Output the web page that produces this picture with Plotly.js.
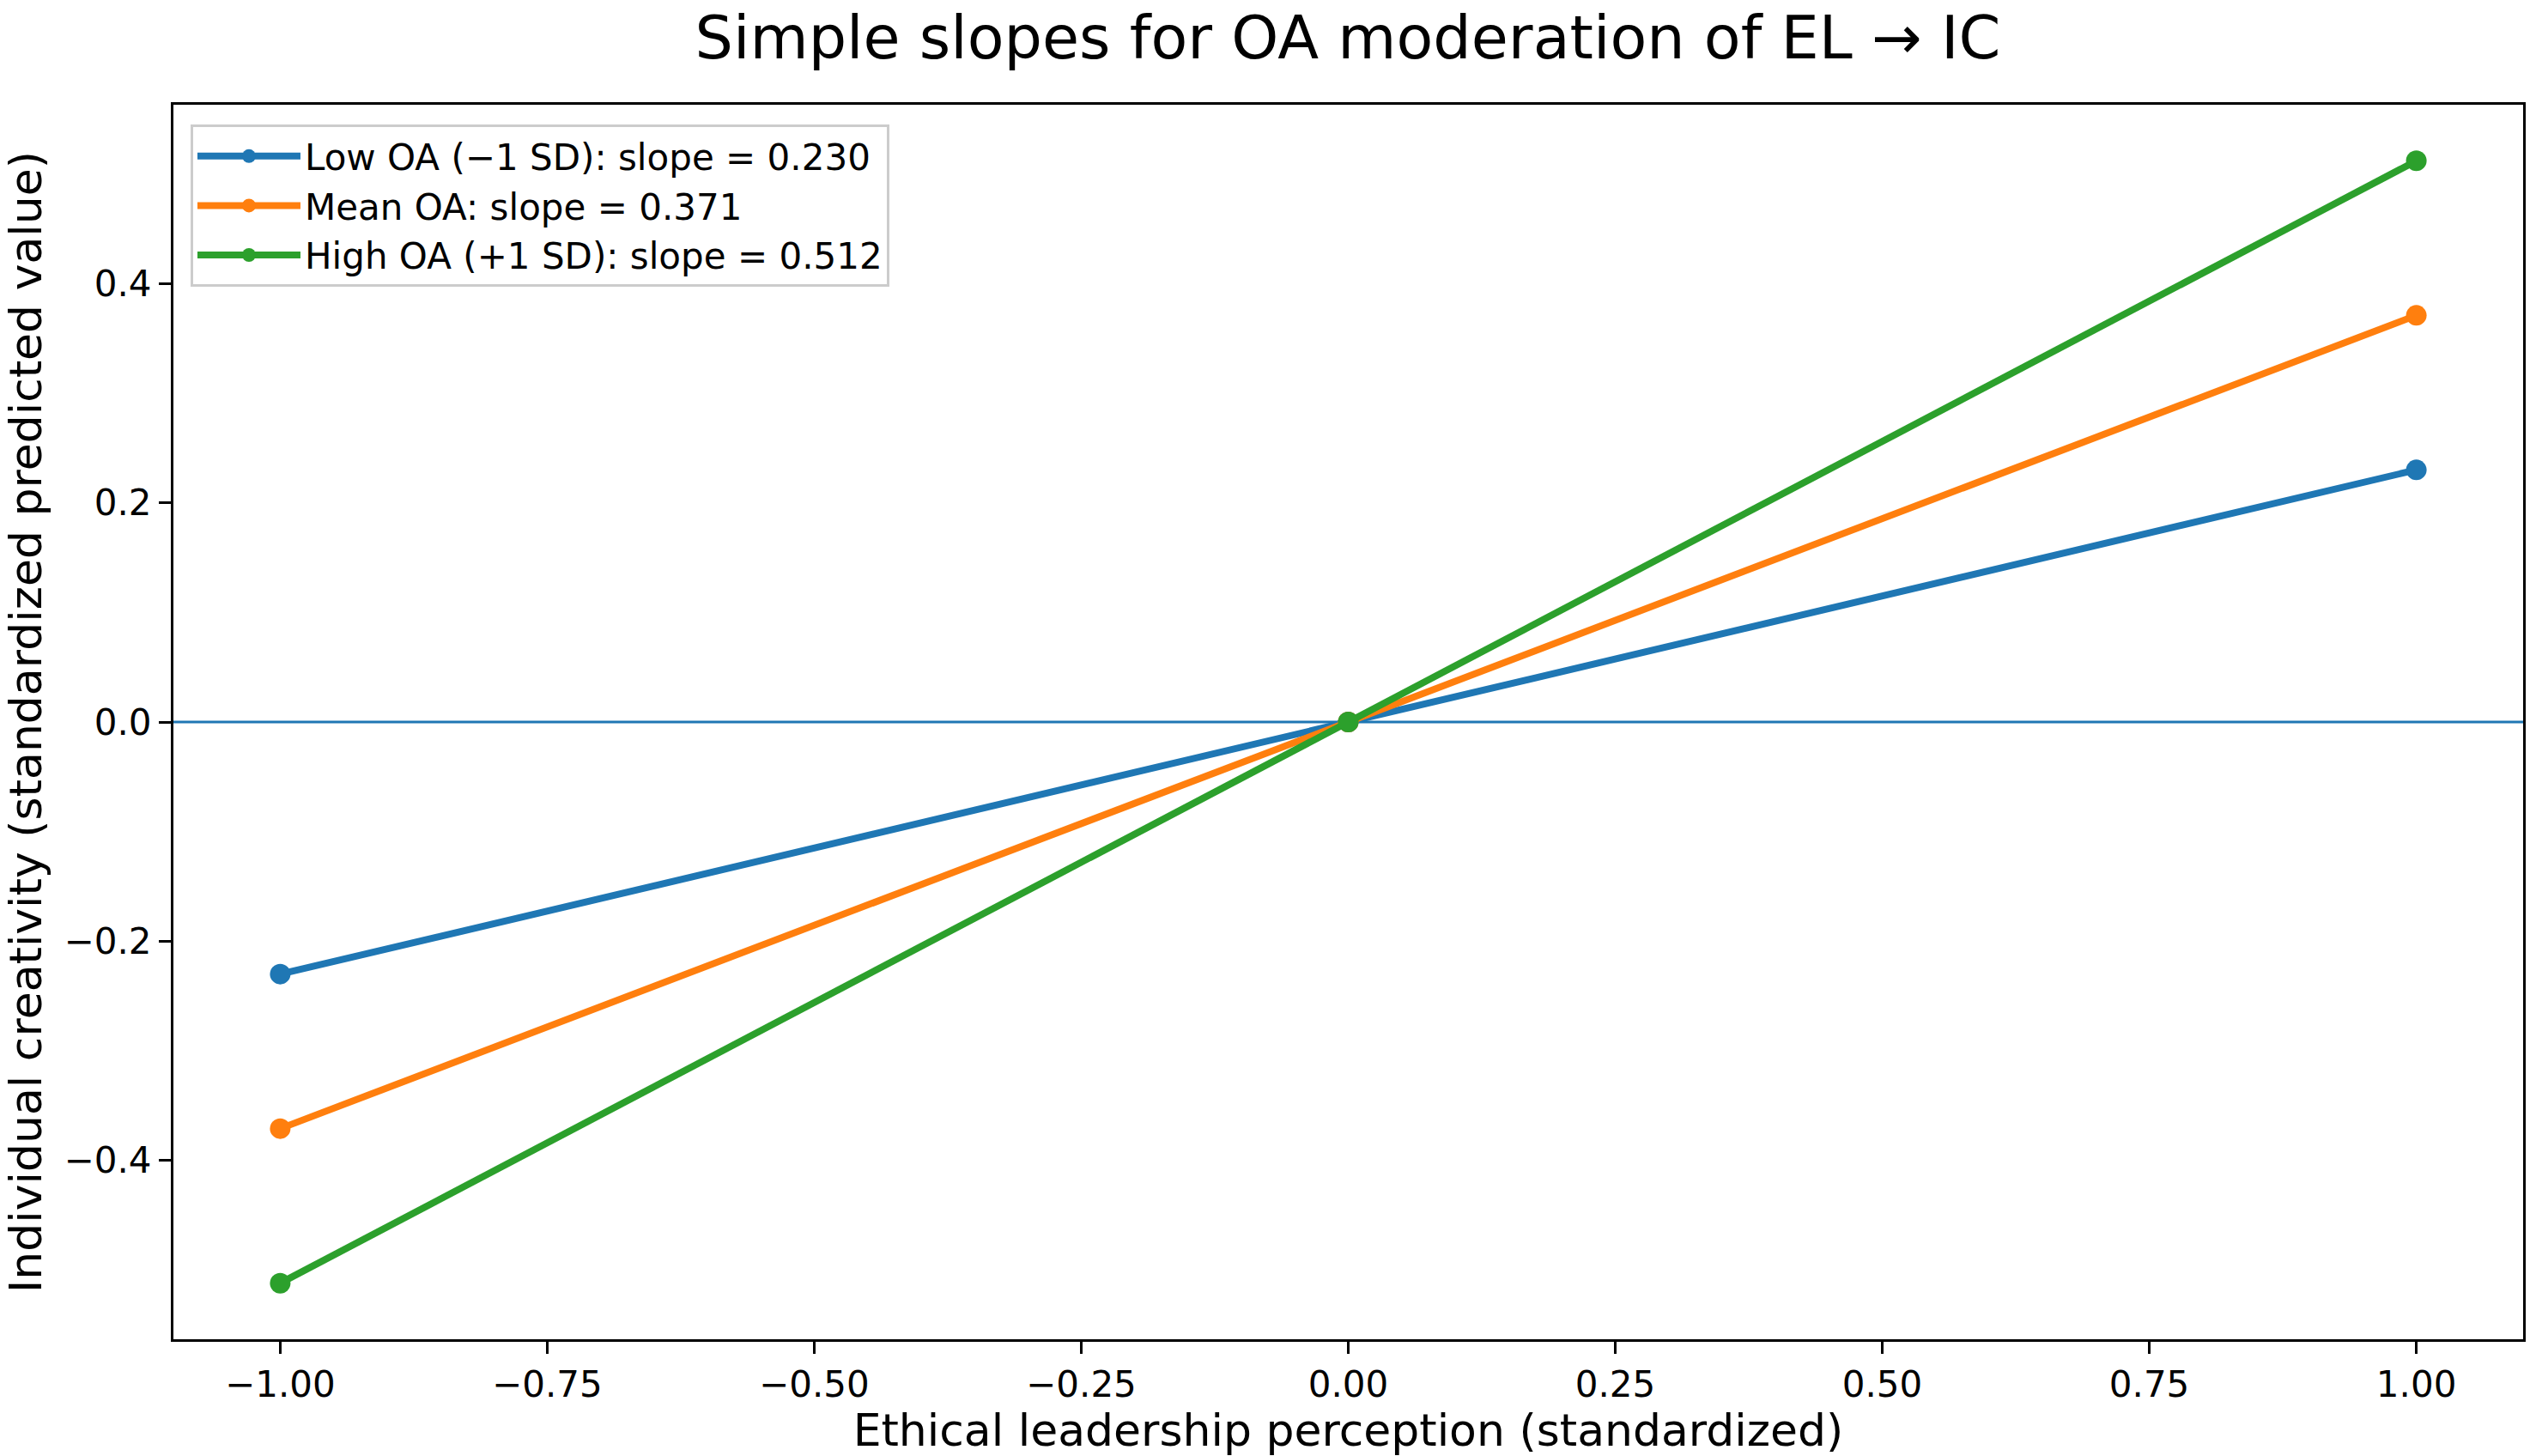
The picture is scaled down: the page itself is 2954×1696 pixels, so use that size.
<!DOCTYPE html>
<html>
<head>
<meta charset="utf-8">
<script src="https://cdn.plot.ly/plotly-3.0.1.min.js"></script>
<style>
  html, body { margin: 0; padding: 0; background: #fff; }
  #chart { width: 2954px; height: 1696px; }
</style>
</head>
<body>
<div id="chart"></div>
<script>
// predictor values (standardized EL) and predicted IC for each OA level
const elValues = [-1, 0, 1];
const lowOA = [-0.230, 0, 0.230];
const meanOA = [-0.371, 0, 0.371];
const highOA = [-0.512, 0, 0.512];

const seriesNames = [
  'Low OA (\u22121 SD): slope = 0.230',
  'Mean OA: slope = 0.371',
  'High OA (+1 SD): slope = 0.512'
];
const seriesColors = ['#1f77b4', '#ff7f0e', '#2ca02c'];

const xTicks = [-1, -0.75, -0.5, -0.25, 0, 0.25, 0.5, 0.75, 1];
const yTicks = [-0.4, -0.2, 0, 0.2, 0.4];

const FONT = 'DejaVu Sans, Liberation Sans, sans-serif';

/**
 * Builds one simple-slope trace.
 * @param  {array}  yVals  predicted values
 * @param  {number} i      series index
 * @return {object}        plotly trace
 */
function slopeTrace(yVals, i){
  return {
    x: elValues,
    y: yVals,
    name: seriesNames[i],
    type: 'scatter',
    mode: 'lines+markers',
    line: {color: seriesColors[i], width: 8},
    marker: {color: seriesColors[i], size: 24}
  };
}

const data = [
  slopeTrace(lowOA, 0),
  slopeTrace(meanOA, 1),
  slopeTrace(highOA, 2)
];

const axisCommon = {
  showgrid: false,
  zeroline: false,
  showline: true,
  mirror: true,
  linecolor: '#000',
  linewidth: 3,
  ticks: 'outside',
  ticklen: 14,
  tickwidth: 3,
  tickcolor: '#000',
  tickfont: {family: FONT, size: 42, color: '#000'},
  automargin: false
};

const layout = {
  width: 2954,
  height: 1696,
  paper_bgcolor: '#fff',
  plot_bgcolor: '#fff',
  margin: {l: 202, r: 15, t: 122, b: 136},
  font: {family: FONT, color: '#000'},
  title: {
    text: 'Simple slopes for OA moderation of EL \u2192 IC',
    font: {family: FONT, size: 70, color: '#000'},
    x: 0.5315, xref: 'container', xanchor: 'center',
    y: 1 - 19 / 1696, yref: 'container', yanchor: 'top'
  },
  xaxis: Object.assign({}, axisCommon, {
    range: [-1.1, 1.1],
    tickvals: xTicks,
    tickformat: '.2f',
    title: {
      text: 'Ethical leadership perception (standardized)',
      font: {family: FONT, size: 52, color: '#000'},
      standoff: 0
    }
  }),
  yaxis: Object.assign({}, axisCommon, {
    range: [-0.5632, 0.5632],
    tickvals: yTicks,
    tickformat: '.1f',
    title: {
      text: 'Individual creativity (standardized predicted value)',
      font: {family: FONT, size: 52, color: '#000'},
      standoff: 20
    }
  }),
  shapes: [{
    type: 'line', xref: 'paper', x0: 0, x1: 1, yref: 'y', y0: 0, y1: 0,
    line: {color: '#1f77b4', width: 3}, layer: 'below'
  }],
  legend: {
    x: 0.0073, y: 0.984, xanchor: 'left', yanchor: 'top',
    bgcolor: 'rgba(255,255,255,0.8)',
    bordercolor: '#cccccc',
    borderwidth: 3,
    font: {family: FONT, size: 42, color: '#000'},
    itemwidth: 120
  },
  showlegend: true
};

Plotly.newPlot('chart', data, layout, {displayModeBar: false, staticPlot: true});
</script>
</body>
</html>
